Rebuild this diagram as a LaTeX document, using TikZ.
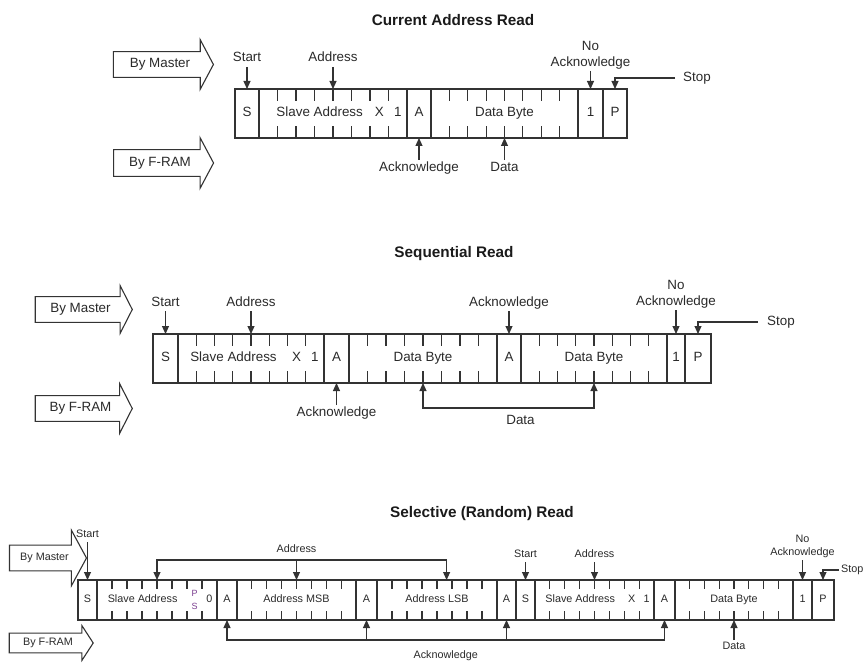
\documentclass[tikz,border=0pt]{standalone}
\usepackage{fontspec}
\setmainfont{Liberation Sans}
\usetikzlibrary{arrows.meta,positioning,calc,shapes.arrows}
\definecolor{pgLine}{HTML}{333333}
\definecolor{pgText}{HTML}{2A2A2A}
\definecolor{pgTitle}{HTML}{1A1A1A}
\definecolor{pgPurple}{HTML}{7A3D8F}
\newcommand\bigfnt{\fontsize{13.4}{16}\selectfont}
\newcommand\smfnt{\fontsize{10.8}{13}\selectfont}
\newcommand\tinyfnt{\fontsize{9}{13}\selectfont}
\newcommand\ttlfnt{\fontsize{15.3}{18}\selectfont\bfseries}
% seven bit marks on top and bottom of a byte field
\newcommand\byteticks[2]{%
  \foreach \k in {1,...,7}{%
    \draw[bitmark] ($(#1.north west)!\k/8!(#1.north east)$) -- ++(0,#2);
    \draw[bitmark] ($(#1.south west)!\k/8!(#1.south east)$) -- ++(0,-#2);
  }}

\begin{document}
\begin{tikzpicture}[x=1pt, y=-1pt, font=\bigfnt,
  cell/.style={draw=pgLine, line width=1.1pt, minimum height=49pt, inner sep=0pt, outer sep=0pt, anchor=west, text=pgText, text height=9.6pt, text depth=2.8pt},
  txt/.style={inner sep=0pt, text=pgText, text height=9.6pt, text depth=2.8pt},
  bitmark/.style={draw=pgLine, line width=1.1pt},
  lbl/.style={inner sep=2pt, text=pgText, text height=9.6pt, text depth=2.8pt},
  lblm/.style={inner sep=2pt, text=pgText, align=center},
  ttl/.style={font=\ttlfnt, text=pgTitle},
  flow/.style={single arrow, draw=pgLine, line width=1.1pt, fill=white, text=pgText, inner xsep=0pt, single arrow head indent=0pt},
  sig/.style={-{Triangle[length=8pt,width=7pt]}, draw=pgLine, line width=1.1pt},
  sigb/.style={{Triangle[length=8pt,width=7pt]}-{Triangle[length=8pt,width=7pt]}, draw=pgLine, line width=1.1pt}
]
\useasboundingbox (0,0) rectangle (865,663);

% Current Address Read
\node[ttl] (cT) at (453,20) {Current Address Read};
\node[flow, minimum height=100pt, minimum width=49pt, inner ysep=6.3pt, single arrow head extend=12pt, single arrow tip angle=124] (cMst) at (160,64.5) {By Master};
\node[flow, minimum height=100pt, minimum width=50pt, inner ysep=6.8pt, single arrow head extend=12pt, single arrow tip angle=124] (cRam) at (160,163) {By F-RAM};

\node[cell, minimum width=24pt] (cS) at (235,113.5) {S};
\node[cell, minimum width=148pt, right=0pt of cS] (cSA) {};
\node[cell, minimum width=24pt, right=0pt of cSA] (cA) {A};
\node[cell, minimum width=147pt, right=0pt of cA] (cD) {Data Byte};
\node[cell, minimum width=25pt, right=0pt of cD] (cN) {1};
\node[cell, minimum width=24pt, right=0pt of cN] (cP) {P};
\node[txt] (cSAt) at ($(cSA.west)!0.41!(cSA.east)$) {Slave Address};
\node[txt] (cSAx) at ($(cSA.west)!0.8125!(cSA.east)$) {X};
\node[txt] (cSAr) at ($(cSA.west)!0.9375!(cSA.east)$) {1};
\byteticks{cSA}{12}
\byteticks{cD}{12}

\coordinate (cAd) at ($(cSA.north west)!0.5!(cSA.north east)$);
\node[lbl, above=22pt of cS.north] (cStL) {Start};
\node[lbl, above=22pt of cAd] (cAdL) {Address};
\node[lblm, above=18pt of cN.north] (cNoL) {No\\Acknowledge};
\node[lbl, anchor=west] (cSpL) at ($(cP.north)+(66,-11)$) {Stop};
\node[lbl, below=22pt of cA.south] (cAkL) {Acknowledge};
\node[lbl, below=22pt of cD.south] (cDtL) {Data};

\draw[sig] (cStL) -- (cS);
\draw[sig] (cAdL) -- (cAd);
\draw[sig] (cNoL) -- (cN);
\draw[sig, shorten <=6pt] (cSpL.west) -| (cP.north);
\draw[sig] (cAkL) -- (cA);
\draw[sig] (cDtL) -- (cD);

% Sequential Read
\node[ttl] (mT) at (454,254) {Sequential Read};
\node[flow, minimum height=97pt, minimum width=47pt, inner ysep=6.3pt, single arrow head extend=11pt, single arrow tip angle=126] (mMst) at (80.5,309.5) {By Master};
\node[flow, minimum height=97pt, minimum width=49pt, inner ysep=6.3pt, single arrow head extend=12pt, single arrow tip angle=126] (mRam) at (80.5,408.5) {By F-RAM};

\node[cell, minimum width=25pt] (mS) at (153,358.5) {S};
\node[cell, minimum width=146pt, right=0pt of mS] (mSA) {};
\node[cell, minimum width=25pt, right=0pt of mSA] (mA1) {A};
\node[cell, minimum width=148pt, right=0pt of mA1] (mD1) {Data Byte};
\node[cell, minimum width=24pt, right=0pt of mD1] (mA2) {A};
\node[cell, minimum width=146pt, right=0pt of mA2] (mD2) {Data Byte};
\node[cell, minimum width=18pt, right=0pt of mD2] (mN) {1};
\node[cell, minimum width=26pt, right=0pt of mN] (mP) {P};
\node[txt] (mSAt) at ($(mSA.west)!0.38!(mSA.east)$) {Slave Address};
\node[txt] (mSAx) at ($(mSA.west)!0.8125!(mSA.east)$) {X};
\node[txt] (mSAr) at ($(mSA.west)!0.9375!(mSA.east)$) {1};
\byteticks{mSA}{12}
\byteticks{mD1}{12}
\byteticks{mD2}{12}

\coordinate (mAd) at ($(mSA.north west)!0.5!(mSA.north east)$);
\node[lbl, above=23pt of mS.north] (mStL) {Start};
\node[lbl, above=23pt of mAd] (mAdL) {Address};
\node[lbl, above=23pt of mA2.north] (mAk2L) {Acknowledge};
\node[lblm, above=24pt of mN.north] (mNoL) {No\\Acknowledge};
\node[lbl, anchor=west] (mSpL) at ($(mP.north)+(67,-12)$) {Stop};
\node[lbl, below=22pt of mA1.south] (mAk1L) {Acknowledge};
\coordinate (mDtJ) at ($(mD1.south)!0.5!(mD2.south)+(12,25)$);
\node[lbl, below=5pt of mDtJ] (mDtL) {Data};

\draw[sig] (mStL) -- (mS);
\draw[sig] (mAdL) -- (mAd);
\draw[sig] (mAk2L) -- (mA2);
\draw[sig] (mNoL) -- (mN);
\draw[sig, shorten <=7pt] (mSpL.west) -| (mP.north);
\draw[sig] (mAk1L) -- (mA1);
\draw[sigb] (mD1.south) -- ++(0,25) -| (mD2.south);

% Selective (Random) Read
\node[ttl] (sT) at (482,514) {Selective (Random) Read};
\begin{scope}[font=\smfnt,
  cell/.append style={minimum height=40pt, text height=7.7pt, text depth=2.3pt},
  txt/.append style={text height=7.7pt, text depth=2.3pt},
  lbl/.append style={text height=7.7pt, text depth=2.3pt}]
\node[flow, minimum height=77pt, minimum width=55pt, inner ysep=7.5pt, single arrow head extend=15pt, single arrow tip angle=123] (sMst) at (44.5,558) {By Master};
\node[flow, minimum height=84pt, minimum width=34pt, inner ysep=4.5pt, single arrow head extend=7.5pt, single arrow tip angle=114] (sRam) at (48,643) {By F-RAM};

\node[cell, minimum width=19pt] (sS) at (78,600) {S};
\node[cell, minimum width=120pt, right=0pt of sS] (sSA) {};
\node[cell, minimum width=20pt, right=0pt of sSA] (sA1) {A};
\node[cell, minimum width=119pt, right=0pt of sA1] (sMSB) {Address MSB};
\node[cell, minimum width=21pt, right=0pt of sMSB] (sA2) {A};
\node[cell, minimum width=120pt, right=0pt of sA2] (sLSB) {Address LSB};
\node[cell, minimum width=19pt, right=0pt of sLSB] (sA3) {A};
\node[cell, minimum width=19pt, right=0pt of sA3] (sS2) {S};
\node[cell, minimum width=119pt, right=0pt of sS2] (sSA2) {};
\node[cell, minimum width=21pt, right=0pt of sSA2] (sA4) {A};
\node[cell, minimum width=118pt, right=0pt of sA4] (sD) {Data Byte};
\node[cell, minimum width=19pt, right=0pt of sD] (sN) {1};
\node[cell, minimum width=22pt, right=0pt of sN] (sP) {P};
\node[txt] (sSAt) at ($(sSA.west)!0.38!(sSA.east)$) {Slave Address};
\node[inner sep=0pt, align=center, font=\tinyfnt, text=pgPurple] (sSAps) at ($(sSA.west)!0.8125!(sSA.east)$) {P\\S};
\node[txt] (sSAr) at ($(sSA.west)!0.9375!(sSA.east)$) {0};
\node[txt] (sSA2t) at ($(sSA2.west)!0.38!(sSA2.east)$) {Slave Address};
\node[txt] (sSA2x) at ($(sSA2.west)!0.8125!(sSA2.east)$) {X};
\node[txt] (sSA2r) at ($(sSA2.west)!0.9375!(sSA2.east)$) {1};
\byteticks{sSA}{9}
\byteticks{sMSB}{9}
\byteticks{sLSB}{9}
\byteticks{sSA2}{9}
\byteticks{sD}{9}

\coordinate (sAd1) at ($(sSA.north west)!0.5!(sSA.north east)$);
\coordinate (sAd3) at ($(sLSB.north west)!0.58!(sLSB.north east)$);
\coordinate (sAdJ) at ($(sMSB.north)+(0,-20)$);
\coordinate (sAd4) at ($(sSA2.north west)!0.5!(sSA2.north east)$);
\node[lbl, above=38pt of sS.north] (sStL) {Start};
\node[lbl, above=3pt of sAdJ] (sAdL) {Address};
\node[lbl, above=18pt of sS2.north] (sSt2L) {Start};
\node[lbl, above=18pt of sAd4] (sAd4L) {Address};
\node[lblm, above=20pt of sN.north] (sNoL) {No\\Acknowledge};
\node[lbl, anchor=west] (sSpL) at ($(sP.north)+(16,-10)$) {Stop};

\coordinate (sAkJ) at ($(sA1.south)+(0,20)$);
\coordinate (sAkM) at ($(sA1.south)!0.5!(sA4.south)+(0,20)$);
\node[lbl, below=9pt of sAkM] (sAkL) {Acknowledge};
\node[lbl, below=20pt of sD.south] (sDtL) {Data};

\draw[sig] (sStL) -- (sS);
\draw[sig] (sAdJ) -- (sMSB);
\draw[sig] (sAdJ) -| (sAd1);
\draw[sig] (sAdJ) -| (sAd3);
\draw[sig] (sSt2L) -- (sS2);
\draw[sig] (sAd4L) -- (sAd4);
\draw[sig] (sNoL) -- (sN);
\draw[sig] (sSpL.west) -| (sP.north);
\draw[sigb] (sA1.south) -- ++(0,20) -| (sA4.south);
\draw[sig] (sA2.south |- sAkJ) -- (sA2.south);
\draw[sig] (sA3.south |- sAkJ) -- (sA3.south);
\draw[sig] (sDtL) -- (sD);
\end{scope}
\end{tikzpicture}
\end{document}
